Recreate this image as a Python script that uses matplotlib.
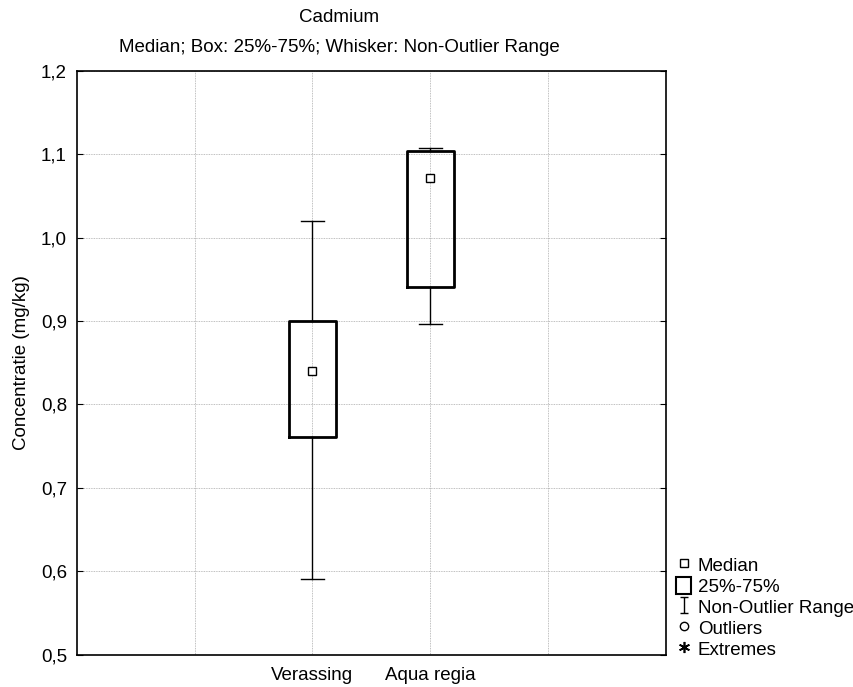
import matplotlib.pyplot as plt
from matplotlib.lines import Line2D
from matplotlib.patches import Rectangle
from matplotlib.path import Path

plt.rcParams['font.family'] = ['Liberation Sans', 'DejaVu Sans']

# box statistics
groups = ['Verassing', 'Aqua regia']
medians = [0.840, 1.072]
q1 = [0.761, 0.941]
q3 = [0.900, 1.104]
whis_lo = [0.591, 0.896]
whis_hi = [1.020, 1.108]
y_ticks = [0.5, 0.6, 0.7, 0.8, 0.9, 1.0, 1.1, 1.2]

stats = []
for i in range(len(groups)):
    stats.append({'label': groups[i], 'med': medians[i], 'mean': medians[i],
                  'q1': q1[i], 'q3': q3[i],
                  'whislo': whis_lo[i], 'whishi': whis_hi[i], 'fliers': []})

fs = 13.5

fig = plt.figure(figsize=(8.54, 6.87), dpi=100)
ax = fig.add_axes([0.0898, 0.0473, 0.6902, 0.8494])

positions = [1, 2]
ax.bxp(stats, positions=positions, widths=0.4, capwidths=0.2,
       showmeans=True, patch_artist=False,
       boxprops=dict(color='black', linewidth=2),
       whiskerprops=dict(color='black', linewidth=1),
       capprops=dict(color='black', linewidth=1),
       medianprops=dict(linewidth=0),
       meanprops=dict(marker='s', markersize=6, markerfacecolor='white',
                      markeredgecolor='black', markeredgewidth=1),
       zorder=3)

ax.set_xlim(-1, 4)
ax.set_ylim(0.5, 1.2)
ax.set_xticks([0, 1, 2, 3])
ax.set_xticklabels(['', 'Verassing', 'Aqua regia', ''], fontsize=fs)
ax.set_yticks(y_ticks)
ax.set_yticklabels([('%.1f' % v).replace('.', ',') for v in y_ticks], fontsize=fs)
ax.tick_params(axis='x', length=0, pad=9)
ax.tick_params(axis='y', direction='in', length=4, right=True, pad=7)
ax.grid(True, linestyle=(0, (1, 1)), color='#aaaaaa', linewidth=0.6, zorder=0)
ax.set_axisbelow(True)
for s in ax.spines.values():
    s.set_linewidth(1.2)

ax.set_ylabel('Concentratie (mg/kg)', fontsize=fs, labelpad=8)

fig.text(0.397, 1 - 18 / 687, 'Cadmium', ha='center', va='center', fontsize=fs)
fig.text(0.397, 1 - 47 / 687, 'Median; Box: 25%-75%; Whisker: Non-Outlier Range',
         ha='center', va='center', fontsize=fs)

# legend in the Statistica style
ibar = Path([(-0.5, 1), (0.5, 1), (0, 1), (0, -1), (-0.5, -1), (0.5, -1)],
            [Path.MOVETO, Path.LINETO, Path.MOVETO, Path.LINETO, Path.MOVETO, Path.LINETO])
handles = [
    Line2D([], [], linestyle='none', marker='s', markersize=6,
           markerfacecolor='white', markeredgecolor='black', markeredgewidth=1),
    Rectangle((0, 0), 1, 1, facecolor='white', edgecolor='black', linewidth=1.5),
    Line2D([], [], linestyle='none', marker=ibar, markersize=11.5,
           markerfacecolor='none', markeredgecolor='black', markeredgewidth=1),
    Line2D([], [], linestyle='none', marker='o', markersize=6,
           markerfacecolor='white', markeredgecolor='black', markeredgewidth=1),
    Line2D([], [], linestyle='none', marker=(6, 2, 0), markersize=8,
           markeredgecolor='black', markeredgewidth=1.2),
]
labels = ['Median', '25%-75%', 'Non-Outlier Range', 'Outliers', 'Extremes']
fig.legend(handles, labels, loc='lower left', bbox_to_anchor=(0.783, 0.03),
           frameon=False, fontsize=fs, handlelength=0.8, handleheight=1.0,
           handletextpad=0.35, labelspacing=0.12, borderaxespad=0)

fig.savefig('out.png', dpi=100)
